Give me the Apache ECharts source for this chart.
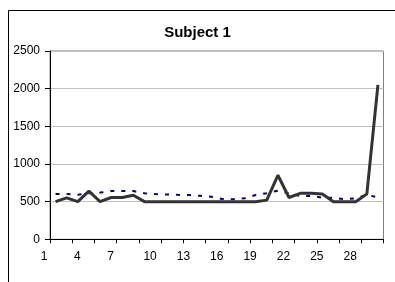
<!DOCTYPE html>
<html>
<head>
<meta charset="utf-8">
<script src="https://cdn.jsdelivr.net/npm/echarts@6/dist/echarts.min.js"></script>
<style>
  html, body { margin: 0; padding: 0; background: #fff; }
  #chart { width: 395px; height: 282px; }
</style>
</head>
<body>
<div id="chart"></div>
<script>
// 数据
var categories = [];
for (var i = 1; i <= 30; i++) { categories.push(String(i)); }
var xTickLabels = ['1', '4', '7', '10', '13', '16', '19', '22', '25', '28'];
var yTickLabels = [0, 500, 1000, 1500, 2000, 2500];

var subjectValues = [500, 550, 500, 640, 500, 555, 555, 585, 500, 500,
                     500, 500, 500, 500, 500, 500, 500, 500, 500, 520,
                     850, 555, 610, 610, 600, 500, 500, 500, 600, 2050];
var trendValues = [600, 600, 590, 610, 620, 640, 640, 640, 610, 600,
                   595, 590, 587, 578, 565, 535, 532, 545, 589, 611,
                   646, 611, 575, 575, 553, 553, 532, 545, 589, 558];

var font = 'Liberation Sans, Arial, sans-serif';

function initChart() {
    var option = {
        animation: false,
        backgroundColor: '#fff',
        title: {
            text: 'Subject 1',
            left: 'center',
            top: 20,
            textStyle: { fontFamily: font, fontSize: 15, fontWeight: 'bold', color: '#000' }
        },
        graphic: [{
            type: 'rect',
            shape: { x: 8.5, y: 10.5, width: 420, height: 300 },
            style: { fill: 'none', stroke: '#000', lineWidth: 1 },
            silent: true
        }],
        grid: {
            left: 50,
            top: 51,
            right: 11.5,
            bottom: 42.7,
            show: true,
            borderColor: '#808080',
            borderWidth: 1
        },
        xAxis: [{
            type: 'category',
            data: categories,
            boundaryGap: true,
            axisLine: { lineStyle: { color: '#000', width: 1 } },
            axisTick: { show: true, length: 4, lineStyle: { color: '#000' } },
            axisLabel: { show: false },
            splitLine: { show: false }
        }, {
            // 刻度标签放在分类边界上
            type: 'value',
            position: 'bottom',
            min: 1,
            max: 31,
            interval: 3,
            axisLine: { show: false },
            axisTick: { show: false },
            splitLine: { show: false },
            axisLabel: {
                margin: 11,
                fontFamily: font,
                fontSize: 12,
                color: '#000',
                formatter: function (v) {
                    var s = String(v);
                    if (xTickLabels.indexOf(s) < 0) return '';
                    return s.length < 2 ? '{a|' + s + '}' : s;
                },
                rich: {
                    a: { fontFamily: font, fontSize: 12, color: '#000', padding: [0, 12, 0, 0] }
                }
            }
        }],
        yAxis: {
            type: 'value',
            min: 0,
            max: 2500,
            interval: 500,
            axisLine: { show: true, lineStyle: { color: '#000', width: 1 } },
            axisTick: { show: true, length: 5, lineStyle: { color: '#000' } },
            axisLabel: {
                margin: 10,
                fontFamily: font,
                fontSize: 12,
                color: '#000',
                formatter: function (v) {
                    return yTickLabels.indexOf(v) >= 0 ? String(v) : '';
                }
            },
            splitLine: { show: true, lineStyle: { color: '#c0c0c0', width: 1 } }
        },
        series: [{
            name: 'trend',
            type: 'line',
            xAxisIndex: 0,
            data: trendValues,
            symbol: 'none',
            lineStyle: { color: '#000080', width: 2, type: [4, 7] },
            z: 2
        }, {
            name: 'Subject 1',
            type: 'line',
            xAxisIndex: 0,
            data: subjectValues,
            symbol: 'none',
            lineStyle: { color: '#333333', width: 3 },
            z: 3
        }]
    };
    var chart = echarts.init(document.getElementById('chart'));
    chart.setOption(option);
}

initChart();
</script>
</body>
</html>
